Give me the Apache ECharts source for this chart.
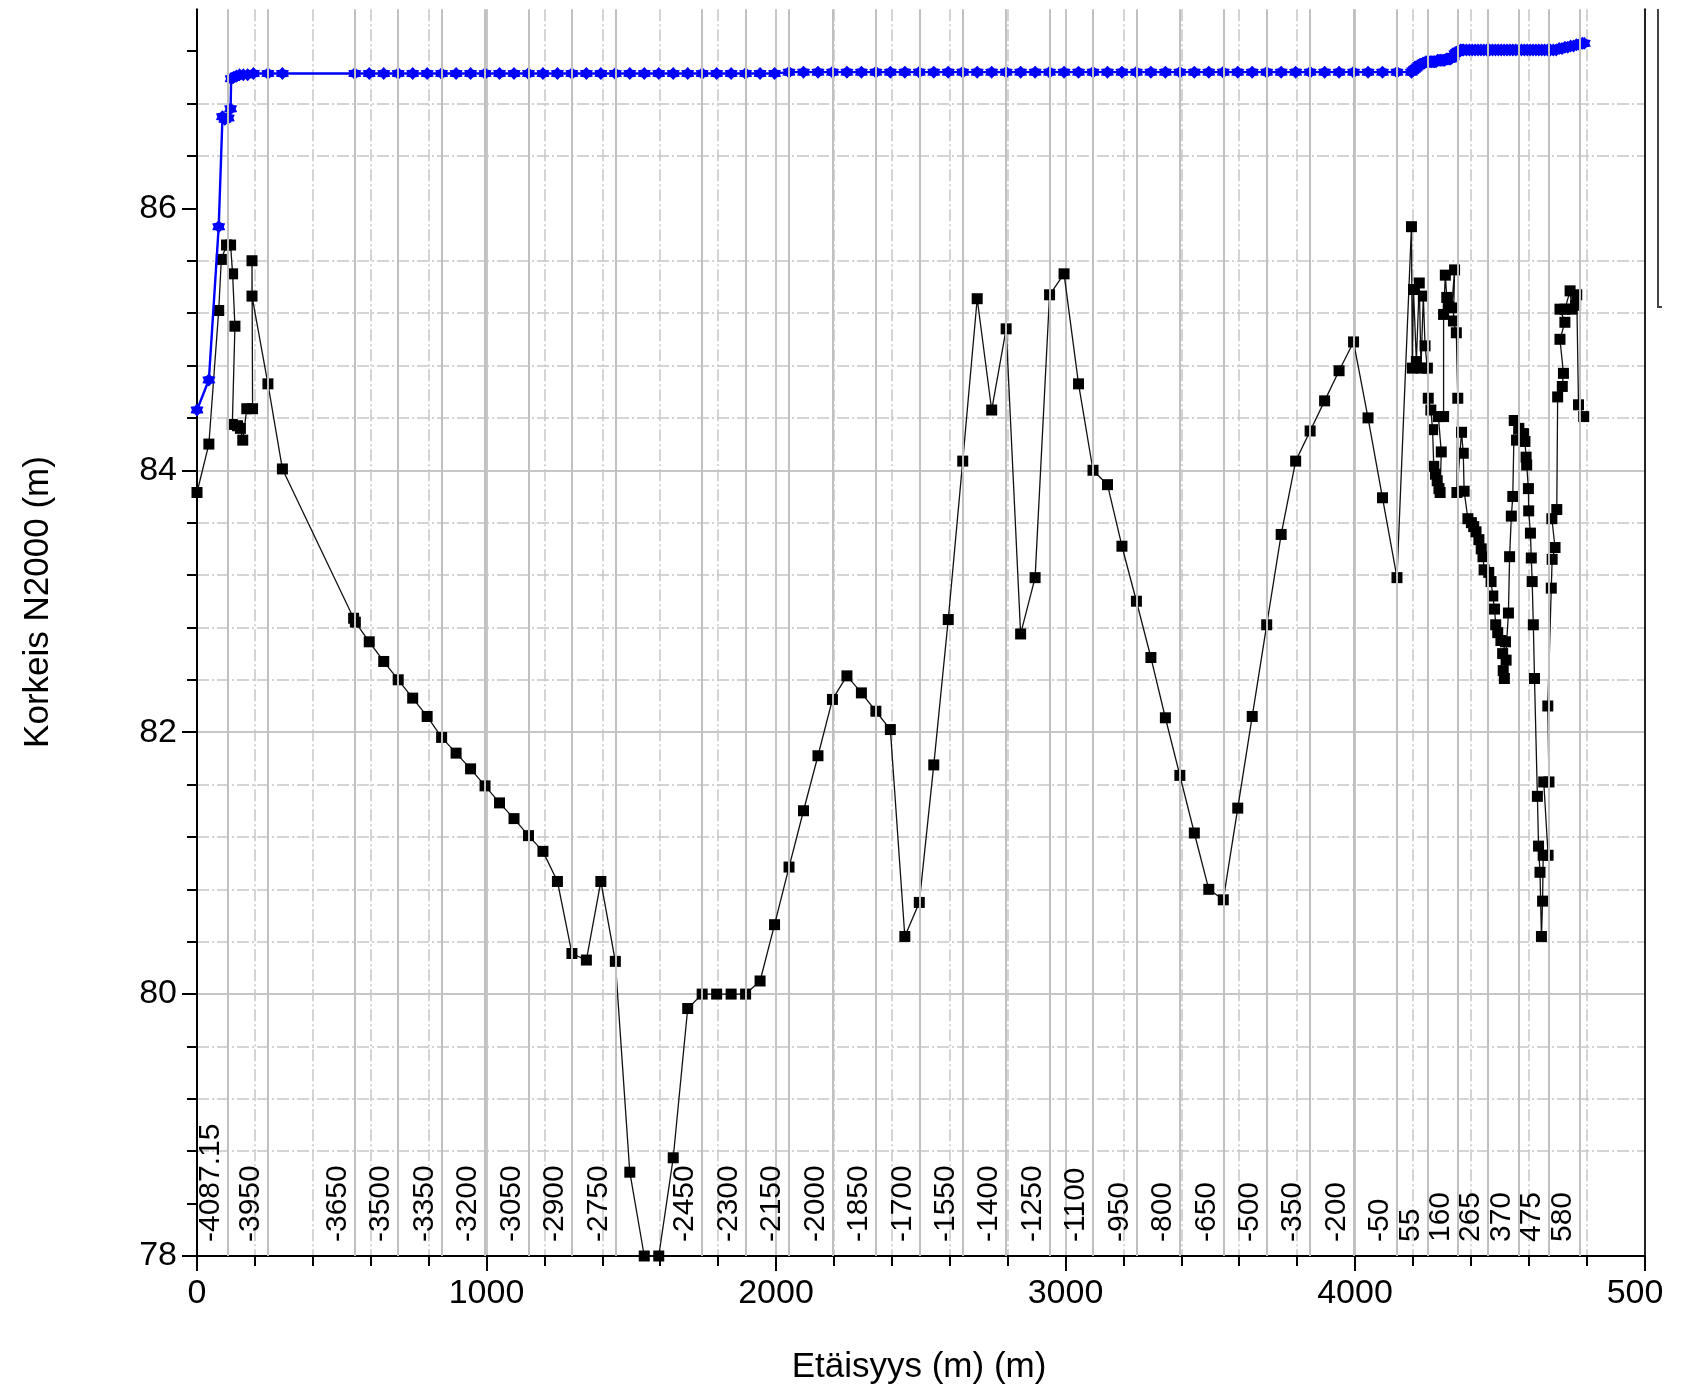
<!DOCTYPE html>
<html>
<head>
<meta charset="utf-8">
<script src="https://cdn.jsdelivr.net/npm/echarts@6/dist/echarts.min.js"></script>
<style>
html,body{margin:0;padding:0;background:#ffffff;}
#chart{width:1695px;height:1391px;}
</style>
</head>
<body>
<div id="chart"></div>
<script>
const FONT = '"Liberation Sans", Arial, sans-serif';

// Bed profile (black squares): [distance m, elevation m]
const bedStart = [
  [0,83.83],[41,84.20],[75,85.22],[84,85.61],[102,85.72],[116,85.72],[123,85.50],[131,85.10],
  [122,84.35],[140,84.34],[150,84.32],[158,84.23],[172,84.47],[192,84.47],[190,85.60],[190,85.33],
  [245,84.66],[295,84.01]
];
const bedMain = [
  [541,82.87],[547,82.84],[595,82.69],[645,82.54],[695,82.40],[745,82.26],[795,82.12],[845,81.96],
  [895,81.84],[945,81.72],[995,81.59],[1045,81.46],[1095,81.34],[1145,81.21],[1195,81.09],[1245,80.86],
  [1295,80.31],[1345,80.26],[1395,80.86],[1445,80.25],[1495,78.64],[1545,78.00],[1595,78.00],[1645,78.75],
  [1695,79.89],[1745,80.00],[1795,80.00],[1845,80.00],[1895,80.00],[1945,80.10],[1995,80.53],[2045,80.97],
  [2095,81.40],[2145,81.82],[2195,82.25],[2245,82.43],[2295,82.30],[2345,82.16],[2395,82.02],[2445,80.44],
  [2495,80.70],[2545,81.75],[2595,82.86],[2645,84.07],[2695,85.31],[2745,84.46],[2795,85.08],[2845,82.75],
  [2895,83.18],[2945,85.34],[2995,85.50],[3045,84.66],[3095,84.00],[3145,83.89],[3195,83.42],[3245,83.00],
  [3295,82.57],[3345,82.11],[3395,81.67],[3445,81.23],[3495,80.80],[3545,80.72],[3595,81.42],[3645,82.12],
  [3695,82.82],[3745,83.51],[3795,84.07],[3845,84.30],[3895,84.53],[3945,84.76],[3995,84.98],[4045,84.40],
  [4095,83.79],[4145,83.18],[4195,85.86]
];
const bedCluster = [
  [4198,84.78],[4202,85.38],[4212,84.83],[4222,85.43],[4228,84.78],[4236,85.33],[4242,84.95],[4250,84.78],
  [4253,84.55],[4262,84.46],[4268,84.31],[4272,84.03],[4278,83.97],[4284,83.92],[4290,83.86],[4294,83.83],
  [4298,84.14],[4288,84.41],[4306,84.41],[4306,85.19],[4312,85.49],[4317,85.32],[4322,85.25],[4334,85.24],
  [4344,85.53],[4340,85.14],[4350,85.05],[4355,84.55],[4352,83.83],[4368,84.29],[4374,84.13],[4377,83.84],
  [4390,83.63],[4402,83.60],[4410,83.57],[4418,83.53],[4428,83.47],[4436,83.40],[4442,83.34],[4446,83.24],
  [4462,83.22],[4470,83.15],[4476,83.04],[4482,82.94],[4486,82.82],[4493,82.76],[4504,82.70],[4520,82.69],
  [4510,82.60],[4522,82.55],[4512,82.47],[4516,82.41],[4530,82.91],[4534,83.34],[4540,83.65],[4545,83.80],
  [4550,84.38],[4558,84.23],[4566,84.32],[4582,84.28],[4587,84.22],[4591,84.10],[4593,84.04],[4599,83.86],
  [4600,83.69],[4606,83.52],[4609,83.33],[4612,83.15],[4616,82.82],[4620,82.41],[4630,81.51],[4634,81.13],
  [4639,80.93],[4644,80.44],[4648,80.71],[4650,81.06],[4667,81.06],[4652,81.62],[4670,81.62],[4666,82.20],
  [4678,83.10],[4681,83.32],[4691,83.41],[4680,83.63],[4697,83.70],[4700,84.56],[4716,84.64],[4720,84.74],
  [4708,85.00],[4725,85.13],[4708,85.23],[4725,85.23],[4743,85.37],[4749,85.23],[4762,85.26],[4766,85.34],
  [4772,84.50],[4790,84.41]
];

// Water level (blue stars): [distance m, level m]
const waterStart = [
  [0,84.46],[41,84.69],[75,85.86],[88,86.70],[96,86.68],[108,86.69],[116,86.76],[118,86.99],
  [126,87.00],[136,87.01],[147,87.02],[160,87.02],[175,87.02],[195,87.03],[245,87.03],[295,87.03]
];
const waterMain = [
  [545,87.03],[595,87.03],[645,87.03],[695,87.03],[745,87.03],[795,87.03],[845,87.03],[895,87.03],
  [945,87.03],[995,87.03],[1045,87.03],[1095,87.03],[1145,87.03],[1195,87.03],[1245,87.03],[1295,87.03],
  [1345,87.03],[1395,87.03],[1445,87.03],[1495,87.03],[1545,87.03],[1595,87.03],[1645,87.03],[1695,87.03],
  [1745,87.03],[1795,87.03],[1845,87.03],[1895,87.03],[1945,87.03],[1995,87.03],[2045,87.04],[2095,87.04],
  [2145,87.04],[2195,87.04],[2245,87.04],[2295,87.04],[2345,87.04],[2395,87.04],[2445,87.04],[2495,87.04],
  [2545,87.04],[2595,87.04],[2645,87.04],[2695,87.04],[2745,87.04],[2795,87.04],[2845,87.04],[2895,87.04],
  [2945,87.04],[2995,87.04],[3045,87.04],[3095,87.04],[3145,87.04],[3195,87.04],[3245,87.04],[3295,87.04],
  [3345,87.04],[3395,87.04],[3445,87.04],[3495,87.04],[3545,87.04],[3595,87.04],[3645,87.04],[3695,87.04],
  [3745,87.04],[3795,87.04],[3845,87.04],[3895,87.04],[3945,87.04],[3995,87.04],[4045,87.04],[4095,87.04],
  [4145,87.04],[4195,87.04]
];
const waterCluster = [
  [4200,87.05],[4205,87.06],[4210,87.07],[4215,87.08],[4220,87.09],[4225,87.10],[4230,87.10],[4235,87.11],
  [4240,87.11],[4245,87.12],[4250,87.12],[4255,87.12],[4260,87.12],[4265,87.12],[4270,87.12],[4275,87.12],
  [4280,87.12],[4285,87.13],[4290,87.13],[4295,87.13],[4300,87.13],[4305,87.13],[4310,87.13],[4315,87.14],
  [4320,87.14],[4325,87.14],[4330,87.14],[4335,87.15],[4340,87.16],[4345,87.18],[4350,87.19],[4355,87.20],
  [4360,87.20],[4365,87.21],[4370,87.21],[4375,87.21],[4385,87.21],[4395,87.21],[4405,87.21],[4415,87.21],
  [4425,87.21],[4435,87.21],[4445,87.21],[4455,87.21],[4465,87.21],[4475,87.21],[4485,87.21],[4495,87.21],
  [4505,87.21],[4515,87.21],[4525,87.21],[4535,87.21],[4545,87.21],[4555,87.21],[4565,87.21],[4575,87.21],
  [4585,87.21],[4595,87.21],[4605,87.21],[4615,87.21],[4625,87.21],[4635,87.21],[4645,87.21],[4655,87.21],
  [4665,87.21],[4675,87.21],[4685,87.21],[4695,87.21],[4705,87.22],[4715,87.22],[4725,87.23],[4735,87.23],
  [4745,87.24],[4755,87.24],[4765,87.25],[4775,87.25],[4785,87.26],[4792,87.26]
];

// Station (paalu) lines
const stationLabels = ['-4087.15','-3950','-3650','-3500','-3350','-3200','-3050','-2900','-2750',
  '-2450','-2300','-2150','-2000','-1850','-1700','-1550','-1400','-1250','-1100','-950','-800',
  '-650','-500','-350','-200','-50','55','160','265','370','475','580'];
const stationDistance = [107.85,245,545,695,845,995,1145,1295,1445,
  1745,1895,2045,2195,2345,2495,2645,2795,2945,3095,3245,3395,
  3545,3695,3845,3995,4145,4250,4355,4460,4565,4670,4775];

// Axis ticks
const yMajorTicks = [78, 80, 82, 84, 86];
const yMinorTicks = [78.4,78.8,79.2,79.6,80.4,80.8,81.2,81.6,82.4,82.8,83.2,83.6,84.4,84.8,85.2,85.6,86.4,86.8,87.2];
const xMajorLabels = {0:'0',1000:'1000',2000:'2000',3000:'3000',4000:'4000',5000:'{cut|500}'};

const GRID_COLOR = '#c6c6c6';
const DASH = [12, 3, 2, 3];

const bedData = bedStart.concat(bedMain, bedCluster);
const waterData = waterStart.concat(waterMain, waterCluster);

const starPath = 'path://M0,-10 L3.4,-5.9 L8.66,-5 L6.8,0 L8.66,5 L3.4,5.9 L0,10 L-3.4,5.9 L-8.66,5 L-6.8,0 L-8.66,-5 L-3.4,-5.9 Z';

const chart = echarts.init(document.getElementById('chart'), null, {renderer: 'canvas'});
chart.setOption({
  animation: false,
  backgroundColor: '#ffffff',
  textStyle: {fontFamily: FONT},
  grid: {left: 197, right: 50.5, top: 9.3, bottom: 135, containLabel: false, outerBoundsMode: 'none'},
  xAxis: [
    {
      type: 'value', min: 0, max: 5000, interval: 1000, position: 'bottom',
      axisLine: {show: true, onZero: false, lineStyle: {color: '#000', width: 2}},
      axisTick: {show: true, length: 15, lineStyle: {color: '#000', width: 2}},
      axisLabel: {
        show: true, color: '#000', fontSize: 34, fontFamily: FONT, margin: 21,
        formatter: function (v) { return xMajorLabels[v] !== undefined ? xMajorLabels[v] : ''; },
        rich: {cut: {fontSize: 34, fontFamily: FONT, color: '#000', padding: [0, 19, 0, 0]}}
      },
      splitLine: {show: true, lineStyle: {color: GRID_COLOR, width: 2, type: 'solid'}}
    },
    {
      type: 'value', min: 0, max: 5000, interval: 200, position: 'bottom',
      axisLine: {show: false, onZero: false},
      axisTick: {show: true, length: 10, lineStyle: {color: '#000', width: 2}},
      axisLabel: {show: false},
      splitLine: {show: true, lineStyle: {color: GRID_COLOR, width: 1.5, type: DASH}}
    }
  ],
  yAxis: [
    {
      type: 'value', min: 78, max: 87.52, interval: 2, position: 'left',
      axisLine: {show: true, onZero: false, lineStyle: {color: '#000', width: 2}},
      axisTick: {show: true, length: 15, customValues: yMajorTicks, lineStyle: {color: '#000', width: 2}},
      axisLabel: {show: true, customValues: yMajorTicks, color: '#000', fontSize: 34, fontFamily: FONT, margin: 20,
        formatter: function (v) { return (Math.abs(v % 2) < 1e-6) ? String(v) : ''; }},
      splitLine: {show: true, showMaxLine: false, lineStyle: {color: GRID_COLOR, width: 2, type: 'solid'}}
    },
    {
      type: 'value', min: 78, max: 87.52, interval: 0.4, position: 'left',
      axisLine: {show: false, onZero: false},
      axisTick: {show: true, length: 10, customValues: yMinorTicks, lineStyle: {color: '#000', width: 2}},
      axisLabel: {show: false},
      splitLine: {show: true, showMaxLine: false, showMinLine: false, lineStyle: {color: GRID_COLOR, width: 1.5, type: DASH}}
    },
    {
      type: 'value', min: 78, max: 87.52, position: 'right',
      axisLine: {show: true, onZero: false, lineStyle: {color: '#222', width: 2}},
      axisTick: {show: false}, axisLabel: {show: false}, splitLine: {show: false}
    }
  ],
  graphic: [
    {
      type: 'text', x: 38, y: 602, rotation: Math.PI / 2, silent: true,
      style: {text: 'Korkeis N2000 (m)', fontSize: 35, fontFamily: FONT, fill: '#000',
        align: 'center', verticalAlign: 'middle', textAlign: 'center', textVerticalAlign: 'middle'}
    },
    {
      type: 'text', x: 919, y: 1367, silent: true,
      style: {text: 'Etäisyys (m) (m)', fontSize: 35, fontFamily: FONT, fill: '#000',
        align: 'center', verticalAlign: 'middle', textAlign: 'center', textVerticalAlign: 'middle'}
    },
    {
      type: 'polyline', silent: true,
      shape: {points: [[1658, 9], [1658, 307], [1662, 307]]},
      style: {stroke: '#444', lineWidth: 2, fill: null}
    }
  ],
  series: [
    {
      name: 'stations', type: 'line', xAxisIndex: 0, yAxisIndex: 0, data: [], z: 1, silent: true,
      markLine: {
        silent: true, symbol: ['none', 'none'], animation: false,
        lineStyle: {color: '#c0c0c0', width: 2, type: 'solid'},
        label: {show: true, position: 'insideStartTop', formatter: '{b}', color: '#000',
          fontSize: 30, fontFamily: FONT, distance: [14, 2]},
        emphasis: {disabled: true},
        data: stationDistance.map(function (d, i) { return {xAxis: d, name: stationLabels[i]}; })
      }
    },
    {
      name: 'Pohja', type: 'line', xAxisIndex: 0, yAxisIndex: 0, z: 3,
      data: bedData, symbol: 'rect', symbolSize: 11, showAllSymbol: true,
      itemStyle: {color: '#000', borderColor: '#000', borderWidth: 0, opacity: 1},
      lineStyle: {color: '#111', width: 1.3},
      emphasis: {disabled: true}, clip: false
    },
    {
      name: 'Vedenpinta', type: 'line', xAxisIndex: 0, yAxisIndex: 0, z: 4,
      data: waterData, symbol: starPath, symbolSize: 13, showAllSymbol: true,
      itemStyle: {color: '#0000ff', borderColor: '#0000ff', borderWidth: 0, opacity: 1},
      lineStyle: {color: '#0000ff', width: 2.4},
      emphasis: {disabled: true}, clip: false
    }
  ]
});
</script>
</body>
</html>
